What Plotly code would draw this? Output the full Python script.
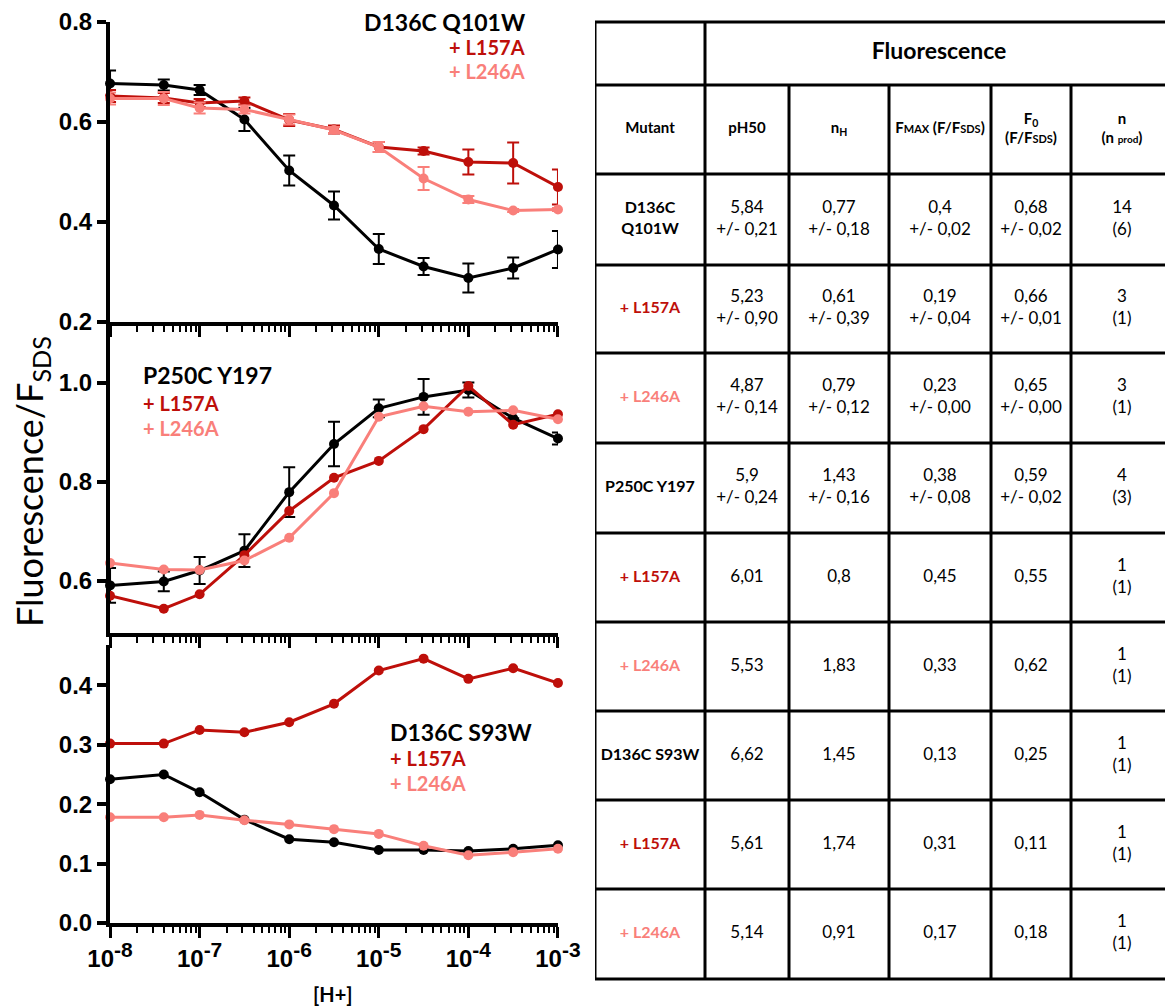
import plotly.graph_objects as go

# The page body adds an 8px margin, so the figure is sized/offset to compensate.
W, H = 1173, 1008
OFF = 8
FW, FH = W - OFF, H - OFF


def px_x(px):
    return (px - OFF) / FW


def px_y(py):
    return 1 - (py - OFF) / FH


# ---------------- data ----------------
pH_values = [8, 7.4, 7, 6.5, 6, 5.5, 5, 4.5, 4, 3.5, 3]
h_plus = [10 ** (-p) for p in pH_values]

# Panel 1: D136C Q101W
q101w_base = [0.677, 0.674, 0.664, 0.605, 0.503, 0.433, 0.346, 0.311, 0.288, 0.308, 0.345]
q101w_base_err = [0.026, 0.011, 0.010, 0.023, 0.030, 0.028, 0.030, 0.017, 0.029, 0.021, 0.037]
q101w_l157a = [0.652, 0.648, 0.638, 0.642, 0.604, 0.585, 0.550, 0.542, 0.520, 0.518, 0.470]
q101w_l157a_err = [0.012, 0.010, 0.008, 0.007, 0.012, 0.008, 0.010, 0.007, 0.025, 0.041, 0.035]
q101w_l246a = [0.647, 0.647, 0.628, 0.625, 0.605, 0.584, 0.550, 0.487, 0.445, 0.423, 0.425]
q101w_l246a_err = [0.012, 0.013, 0.011, 0.008, 0.010, 0.006, 0.010, 0.023, 0.007, 0.003, 0.003]

# Panel 2: P250C Y197
y197_base = [0.591, 0.599, 0.621, 0.661, 0.779, 0.876, 0.948, 0.971, 0.985, 0.928, 0.887]
y197_base_err = [0.035, 0.020, 0.027, 0.033, 0.050, 0.045, 0.018, 0.036, 0.015, 0.0, 0.012]
y197_l157a = [0.570, 0.544, 0.573, 0.652, 0.741, 0.808, 0.842, 0.906, 0.993, 0.915, 0.936]
y197_l246a = [0.636, 0.623, 0.622, 0.641, 0.687, 0.777, 0.931, 0.952, 0.941, 0.944, 0.926]

# Panel 3: D136C S93W
s93w_base = [0.242, 0.250, 0.220, 0.174, 0.141, 0.136, 0.123, 0.123, 0.121, 0.125, 0.131]
s93w_l157a = [0.302, 0.302, 0.325, 0.321, 0.338, 0.369, 0.425, 0.445, 0.411, 0.429, 0.404]
s93w_l246a = [0.178, 0.178, 0.182, 0.173, 0.166, 0.158, 0.150, 0.130, 0.114, 0.119, 0.125]

panel_titles = ["D136C Q101W", "P250C Y197", "D136C S93W"]
variant_labels = ["+ L157A", "+ L246A"]

x_tick_vals = [1e-8, 1e-7, 1e-6, 1e-5, 1e-4, 1e-3]
x_tick_text = ["10<sup><span style='font-size:21px'>-8</span></sup>",
               "10<sup><span style='font-size:21px'>-7</span></sup>",
               "10<sup><span style='font-size:21px'>-6</span></sup>",
               "10<sup><span style='font-size:21px'>-5</span></sup>",
               "10<sup><span style='font-size:21px'>-4</span></sup>",
               "10<sup><span style='font-size:21px'>-3</span></sup>"]
x_minor_vals = [k * 10.0 ** e for e in range(-8, -3) for k in range(2, 10)]

# Table
table_group_header = "Fluorescence"
table_col_headers = ["Mutant", "pH50", "n<sub>H</sub>",
                     "F<span style='font-size:11px'>MAX</span> (F/F<span style='font-size:11px'>SDS</span>)",
                     "F<sub>0</sub><br>(F/F<span style='font-size:11px'>SDS</span>)",
                     "n<br>(n <span style='font-size:10px'>prod</span>)"]
table_mutants = ["D136C<br>Q101W", "+ L157A", "+ L246A",
                 "P250C Y197", "+ L157A", "+ L246A",
                 "D136C S93W", "+ L157A", "+ L246A"]
table_ph50 = ["5,84<br>+/- 0,21", "5,23<br>+/- 0,90", "4,87<br>+/- 0,14", "5,9<br>+/- 0,24",
              "6,01", "5,53", "6,62", "5,61", "5,14"]
table_nh = ["0,77<br>+/- 0,18", "0,61<br>+/- 0,39", "0,79<br>+/- 0,12", "1,43<br>+/- 0,16",
            "0,8", "1,83", "1,45", "1,74", "0,91"]
table_fmax = ["0,4<br>+/- 0,02", "0,19<br>+/- 0,04", "0,23<br>+/- 0,00", "0,38<br>+/- 0,08",
              "0,45", "0,33", "0,13", "0,31", "0,17"]
table_f0 = ["0,68<br>+/- 0,02", "0,66<br>+/- 0,01", "0,65<br>+/- 0,00", "0,59<br>+/- 0,02",
            "0,55", "0,62", "0,25", "0,11", "0,18"]
table_n = ["14<br>(6)", "3<br>(1)", "3<br>(1)", "4<br>(3)",
           "1<br>(1)", "1<br>(1)", "1<br>(1)", "1<br>(1)", "1<br>(1)"]

# ---------------- styles ----------------
BLACK = "#000000"
RED = "#BE0F0A"
PINK = "#F97F7A"
series_colors = [BLACK, RED, PINK]
TICK_FONT = dict(family="Liberation Sans", size=24, color=BLACK, weight="bold")
LABEL_FONT = "Lato"

fig = go.Figure()


def add_series(xa, ya, y, color, err=None):
    fig.add_trace(go.Scatter(
        x=h_plus, y=y, xaxis=xa, yaxis=ya, mode="lines+markers",
        line=dict(color=color, width=3),
        marker=dict(color=color, size=10),
        error_y=(dict(type="data", array=err, color=color, thickness=2, width=6, visible=True)
                 if err is not None else None),
        cliponaxis=False, showlegend=False, hoverinfo="skip"))


# Panel 1
add_series("x", "y", q101w_base, BLACK, q101w_base_err)
add_series("x", "y", q101w_l157a, RED, q101w_l157a_err)
add_series("x", "y", q101w_l246a, PINK, q101w_l246a_err)
# Panel 2
add_series("x2", "y2", y197_base, BLACK, y197_base_err)
add_series("x2", "y2", y197_l157a, RED)
add_series("x2", "y2", y197_l246a, PINK)
# Panel 3
add_series("x3", "y3", s93w_base, BLACK)
add_series("x3", "y3", s93w_l157a, RED)
add_series("x3", "y3", s93w_l246a, PINK)

# ---------------- axes ----------------
x_dom = [px_x(110), px_x(558)]


def xaxis_cfg(anchor, labels):
    cfg = dict(domain=x_dom, anchor=anchor, type="log", range=[-8.0005, -2.9995],
               automargin=False,
               showline=True, linewidth=4, linecolor=BLACK, mirror=False,
               ticks="outside", tickvals=x_tick_vals, ticklen=11, tickwidth=3, tickcolor=BLACK,
               minor=dict(ticks="outside", tickmode="array", tickvals=x_minor_vals,
                          ticklen=6, tickwidth=2, tickcolor=BLACK, showgrid=False),
               showgrid=False, zeroline=False, fixedrange=True)
    if labels:
        cfg.update(ticktext=x_tick_text, showticklabels=True, tickfont=TICK_FONT)
    else:
        cfg.update(showticklabels=False)
    return cfg


def yaxis_cfg(anchor, top_px, bottom_px, rng, vals):
    return dict(domain=[px_y(bottom_px), px_y(top_px)], anchor=anchor, range=rng,
                tickvals=vals, automargin=False,
                ticktext=[f"{v:.1f}" for v in vals],
                showline=True, linewidth=4, linecolor=BLACK,
                ticks="outside", ticklen=9, tickwidth=4, tickcolor=BLACK,
                tickfont=TICK_FONT, showgrid=False, zeroline=False, fixedrange=True)


layout_axes = dict(
    xaxis=xaxis_cfg("y", False),
    xaxis2=xaxis_cfg("y2", False),
    xaxis3=xaxis_cfg("y3", True),
    yaxis=yaxis_cfg("x", 22, 322, [0.2, 0.8], [0.2, 0.4, 0.6, 0.8]),
    yaxis2=yaxis_cfg("x2", 323, 633, [0.495, 1.12], [0.6, 0.8, 1.0]),
    yaxis3=yaxis_cfg("x3", 645, 923, [0.0, 0.468], [0.0, 0.1, 0.2, 0.3, 0.4]),
    xaxis4=dict(domain=[px_x(595), 1.0], anchor="y4", range=[595, W], visible=False,
                fixedrange=True, automargin=False),
    yaxis4=dict(domain=[0, 1], anchor="x4", range=[H, OFF], visible=False,
                fixedrange=True, automargin=False),
)

# ---------------- table (drawn on x4/y4 pixel-like scale) ----------------
col_edges = [595, 705, 789, 889, 991, 1071, W]
row_edges = [22, 85, 174, 265, 353, 443, 533, 622, 711, 800, 889, 979]
col_centers = [(col_edges[i] + col_edges[i + 1]) / 2 for i in range(len(col_edges) - 1)]
row_centers = [(row_edges[i] + row_edges[i + 1]) / 2 for i in range(len(row_edges) - 1)]

shapes = []
for ry in row_edges:
    shapes.append(dict(type="line", xref="x4", yref="y4", x0=col_edges[0], x1=W,
                       y0=ry, y1=ry, line=dict(color=BLACK, width=3)))
for i, cx in enumerate(col_edges[:-1]):
    top = row_edges[0] if i <= 1 else row_edges[1]
    shapes.append(dict(type="line", xref="x4", yref="y4", x0=cx, x1=cx,
                       y0=top, y1=row_edges[-1], line=dict(color=BLACK, width=3)))

# group header
fig.add_trace(go.Scatter(
    x=[(col_edges[1] + col_edges[-1]) / 2], y=[row_centers[0]], xaxis="x4", yaxis="y4",
    mode="text", text=[table_group_header],
    textfont=dict(family=LABEL_FONT, size=23, color=BLACK, weight="bold"),
    showlegend=False, hoverinfo="skip", cliponaxis=False))
# column headers
fig.add_trace(go.Scatter(
    x=col_centers, y=[row_centers[1]] * len(col_centers), xaxis="x4", yaxis="y4",
    mode="text", text=table_col_headers,
    textfont=dict(family=LABEL_FONT, size=15, color=BLACK, weight="bold"),
    showlegend=False, hoverinfo="skip", cliponaxis=False))
# mutant names
fig.add_trace(go.Scatter(
    x=[col_centers[0]] * len(table_mutants), y=row_centers[2:], xaxis="x4", yaxis="y4",
    mode="text", text=table_mutants,
    textfont=dict(family=LABEL_FONT, size=16, weight="bold",
                  color=[series_colors[i % 3] for i in range(len(table_mutants))]),
    showlegend=False, hoverinfo="skip", cliponaxis=False))
# value columns
for ci, col in enumerate([table_ph50, table_nh, table_fmax, table_f0, table_n], start=1):
    fig.add_trace(go.Scatter(
        x=[col_centers[ci]] * len(col), y=row_centers[2:], xaxis="x4", yaxis="y4",
        mode="text", text=col,
        textfont=dict(family=LABEL_FONT, size=17, color=BLACK),
        showlegend=False, hoverinfo="skip", cliponaxis=False))

# ---------------- annotations ----------------
annotations = []


def add_label(text, px, py, color, size, anchor):
    annotations.append(dict(text=text, x=px_x(px), y=px_y(py), xref="paper", yref="paper",
                            xanchor=anchor, yanchor="middle", showarrow=False,
                            font=dict(family=LABEL_FONT, size=size, color=color, weight="bold")))


# panel 1 (right-aligned)
add_label(panel_titles[0], 527, 22, BLACK, 23, "right")
add_label(variant_labels[0], 527, 47, RED, 20, "right")
add_label(variant_labels[1], 527, 71, PINK, 20, "right")
# panel 2 (left-aligned)
add_label(panel_titles[1], 141, 375, BLACK, 23, "left")
add_label(variant_labels[0], 141, 403, RED, 20, "left")
add_label(variant_labels[1], 141, 428, PINK, 20, "left")
# panel 3 (left-aligned)
add_label(panel_titles[2], 388, 732, BLACK, 23, "left")
add_label(variant_labels[0], 388, 758, RED, 20, "left")
add_label(variant_labels[1], 388, 783, PINK, 20, "left")

# axis titles
annotations.append(dict(text="[H+]", x=px_x(333), y=px_y(994), xref="paper", yref="paper",
                        xanchor="center", yanchor="middle", showarrow=False,
                        font=dict(family=LABEL_FONT, size=20, color=BLACK, weight="bold")))
annotations.append(dict(text="Fluorescence/F<sub>SDS</sub>", x=px_x(31), y=px_y(482),
                        xref="paper", yref="paper", xanchor="center", yanchor="middle",
                        textangle=-90, showarrow=False,
                        font=dict(family=LABEL_FONT, size=36, color=BLACK)))

fig.update_layout(
    template="none",
    width=FW, height=FH, autosize=False,
    margin=dict(l=0, r=0, t=0, b=0, pad=0),
    paper_bgcolor="white", plot_bgcolor="white",
    showlegend=False, shapes=shapes, annotations=annotations,
    **layout_axes)

fig.write_html("out.html")
